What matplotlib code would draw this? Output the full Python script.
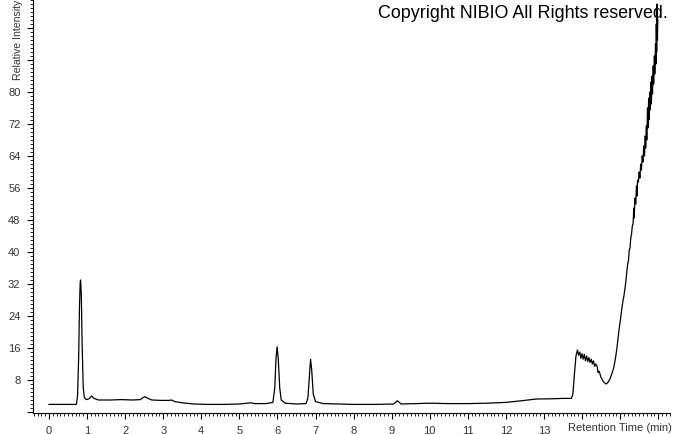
import matplotlib
matplotlib.use('Agg')
import matplotlib.pyplot as plt
from matplotlib.ticker import MultipleLocator

plt.rcParams['font.family'] = ['Liberation Sans', 'DejaVu Sans']

# retention time (min) and relative intensity
rt = [0.00, 0.72, 0.75, 0.78, 0.80, 0.82, 0.83, 0.85, 0.87, 0.90, 0.93, 0.98,
      1.05, 1.12, 1.18, 1.30, 1.60, 1.90, 2.20, 2.40, 2.47, 2.52, 2.60, 2.70,
      2.95, 3.15, 3.22, 3.30, 3.50, 3.80, 4.20, 4.60, 5.00, 5.30, 5.40, 5.70,
      5.88, 5.93, 5.96, 5.99, 6.02, 6.06, 6.10, 6.20, 6.50, 6.75, 6.80, 6.84,
      6.87, 6.90, 6.94, 7.00, 7.20, 7.60, 8.00, 8.60, 9.05, 9.15, 9.25, 9.60,
      10.00, 10.50, 11.00, 11.50, 12.00, 12.40, 12.80, 13.20, 13.50, 13.72,
      13.76, 13.80, 13.84, 13.88, 13.91, 13.94, 13.97, 14.00, 14.03, 14.06,
      14.09, 14.12, 14.15, 14.18, 14.21, 14.24, 14.27, 14.30, 14.33, 14.36,
      14.40, 14.42, 14.45, 14.50, 14.56, 14.63, 14.68, 14.73, 14.78, 14.83,
      14.87, 14.91, 14.94, 14.97, 15.00, 15.04, 15.07, 15.10, 15.13, 15.15,
      15.18, 15.20, 15.22, 15.24, 15.26, 15.28, 15.30, 15.32, 15.34, 15.36,
      15.37, 15.39, 15.41, 15.43, 15.44, 15.46, 15.48, 15.50, 15.52, 15.54,
      15.56, 15.58, 15.60, 15.62, 15.64, 15.66, 15.67, 15.69, 15.70, 15.72,
      15.73, 15.75, 15.76, 15.78, 15.79, 15.81, 15.82, 15.84, 15.85, 15.87,
      15.88, 15.90, 15.91, 15.93, 15.94, 15.95, 15.96, 15.97, 15.98, 15.99]
intensity = [1.9, 1.9, 4.0, 14.0, 26.0, 32.5, 33.0, 29.0, 17.0, 6.0, 3.6, 3.1,
             3.3, 4.0, 3.4, 3.0, 3.0, 3.1, 3.0, 3.1, 3.6, 3.8, 3.4, 3.0,
             2.9, 2.9, 3.0, 2.6, 2.3, 2.0, 1.9, 1.9, 2.0, 2.3, 2.1, 2.1,
             2.4, 6.0, 13.0, 16.3, 13.5, 6.0, 3.0, 2.2, 2.0, 2.1, 3.5, 9.0,
             13.2, 10.5, 4.5, 2.6, 2.1, 2.0, 1.9, 1.9, 2.0, 2.8, 2.0, 2.1,
             2.2, 2.1, 2.1, 2.2, 2.4, 2.8, 3.25, 3.3, 3.4, 3.4,
             4.5, 9.5, 14.0, 15.5, 14.2, 15.0, 13.4, 14.6, 13.2, 14.4,
             12.8, 14.0, 12.6, 13.6, 12.4, 13.2, 12.0, 12.8, 11.4, 12.0,
             11.3, 9.8, 10.2, 8.6, 7.6, 7.0, 7.4, 8.2, 9.5, 11.0,
             13.0, 15.5, 18.0, 20.5, 22.5, 25.5, 27.5, 29.0, 31.0, 32.5,
             35.5, 37.0, 38.0, 40.5, 41.0, 43.5, 44.5, 46.5, 47.0, 51.0,
             48.5, 53.5, 52.0, 56.5, 54.0, 58.0, 57.5, 60.0, 58.5, 62.0,
             60.5, 64.0, 62.5, 66.5, 64.0, 69.0, 66.0, 71.5, 68.0, 76.0,
             71.0, 78.5, 73.0, 80.0, 75.5, 82.5, 77.0, 84.0, 79.5, 86.5,
             82.0, 89.0, 84.5, 92.0, 87.0, 97.0, 90.0, 102.0, 93.0, 98.0]

x_ticks = list(range(0, 17))
x_labels = [str(v) for v in range(0, 14)] + ['', '', '']
y_ticks = list(range(0, 104, 8))
y_labels = ['' if (v == 0 or v > 80) else str(v) for v in y_ticks]

fig = plt.figure(figsize=(6.74, 4.34), dpi=100)
ax = fig.add_axes([33 / 674, 21 / 434, 637 / 674, 413 / 434])

ax.plot(rt, intensity, color='black', lw=0.9)

ax.set_xlim(-0.42, 16.31)
ax.set_ylim(-0.25, 103)

ax.spines['top'].set_visible(False)
ax.spines['right'].set_visible(False)
for s in ('left', 'bottom'):
    ax.spines[s].set_linewidth(0.8)

ax.set_xticks(x_ticks)
ax.set_xticklabels(x_labels)
ax.set_yticks(y_ticks)
ax.set_yticklabels(y_labels)
ax.xaxis.set_minor_locator(MultipleLocator(0.1))
ax.yaxis.set_minor_locator(MultipleLocator(1))
ax.tick_params(which='major', length=4, width=0.8, labelsize=8, pad=5, colors='black', labelcolor='#333333')
ax.tick_params(which='minor', length=2, width=0.6)

fig.text(0.997, (434 - 428) / 434, 'Retention Time (min)', ha='right', va='center', fontsize=8, color='#333333')
fig.text(18 / 674, (434 - 80) / 434, 'Relative Intensity', rotation=90, ha='center', va='bottom', fontsize=7.6, color='#333333')
fig.text(668 / 674, (434 - 14) / 434, 'Copyright NIBIO All Rights reserved.', ha='right', va='center', fontsize=12.9, color='black')

fig.savefig('out.png', dpi=100)
